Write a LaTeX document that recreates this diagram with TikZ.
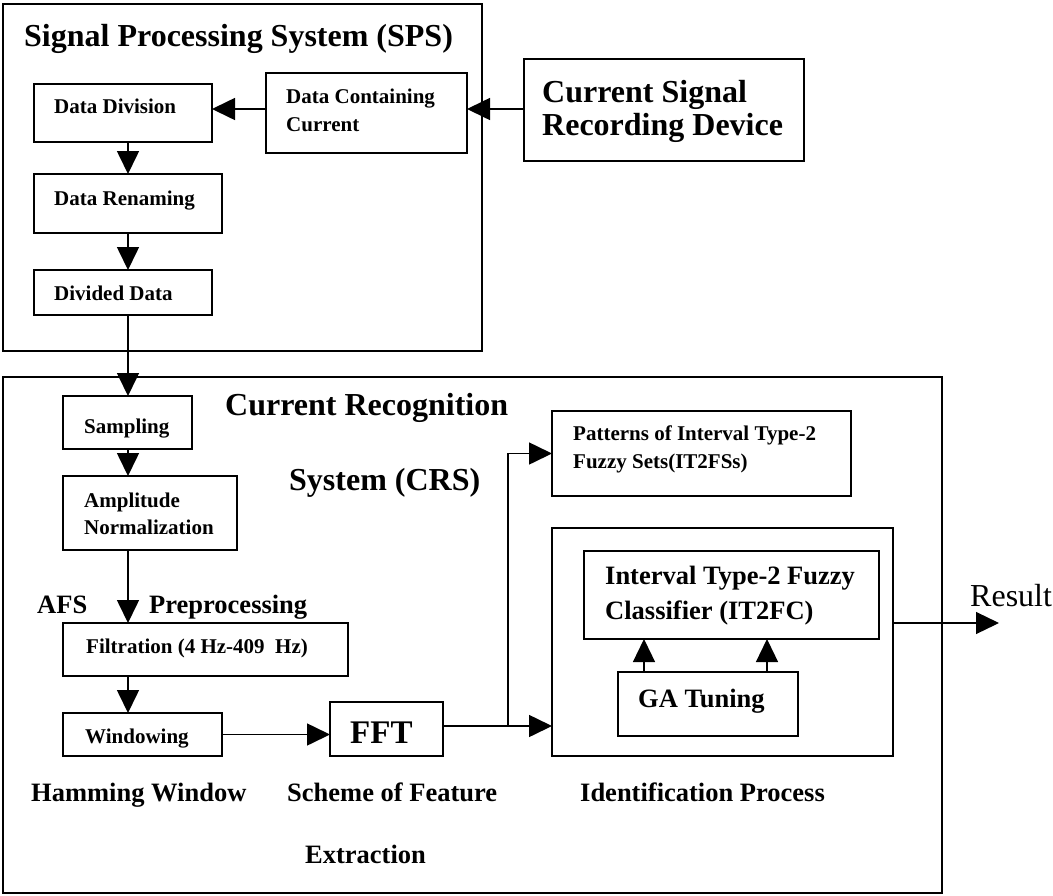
\documentclass[tikz,border=0pt]{standalone}
\usepackage{fontspec}
\setmainfont{Liberation Serif}
\usetikzlibrary{arrows.meta,fit}
\begin{document}
\begin{tikzpicture}[x=1pt,y=-1pt,
  box/.style={draw, line width=1.6pt, inner sep=0pt, outer sep=0pt, rectangle},
  thinbox/.style={draw, line width=1.3pt, inner sep=0pt, outer sep=0pt, rectangle},
  arr/.style={line width=1.6pt, -{Triangle[length=23pt,width=22pt]}},
  ln/.style={line width=1.6pt},
  txt/.style={anchor=base west, inner sep=0pt, font=\fontsize{21}{24}\selectfont\bfseries},
  mid/.style={anchor=base west, inner sep=0pt, font=\fontsize{26.5}{30}\selectfont\bfseries},
  big/.style={anchor=base west, inner sep=0pt, font=\fontsize{32}{36}\selectfont\bfseries}
]
\useasboundingbox (0,0) rectangle (1053,895);
% helper coordinates
\coordinate (xa) at (128,0);
\coordinate (ya) at (0,109);
\coordinate (j) at (508,726);
\coordinate (ga1) at (644,0);
\coordinate (ga2) at (767,0);
\coordinate (yr) at (0,623);
\coordinate (res) at (999,623);

% Signal Processing System
\node[box, fit={(3,4) (482,351)}] (sps) {};
\node[big] (spst) at (24,46) {Signal Processing System (SPS)};
\node[box, fit={(34,84) (212,142)}] (dd) {};
\node[txt] (ddt) at (54,113) {Data Division};
\node[box, fit={(266,73) (467,153)}] (dcc) {};
\node[txt] (dcct1) at (286,103) {Data Containing};
\node[txt] (dcct2) at (286,131) {Current};
\node[box, fit={(34,174) (222,233)}] (dr) {};
\node[txt] (drt) at (54,205) {Data Renaming};
\node[box, fit={(34,270) (212,315)}] (dv) {};
\node[txt] (dvt) at (54,300) {Divided Data};

% Current Signal Recording Device
\node[box, fit={(524,59) (804,161)}] (csrd) {};
\node[big] (csrdt1) at (542,102) {Current Signal};
\node[big] (csrdt2) at (542,135) {Recording Device};

% Current Recognition System
\node[box, fit={(3,377) (942,893)}] (crs) {};
\node[big] (crst1) at (225,415) {Current Recognition};
\node[big] (crst2) at (289,490) {System (CRS)};
\node[box, fit={(63,396) (192,449)}] (samp) {};
\node[txt] (sampt) at (84,433) {Sampling};
\node[box, fit={(63,476) (237,550)}] (amp) {};
\node[txt] (ampt1) at (84,507) {Amplitude};
\node[txt] (ampt2) at (84,534) {Normalization};
\node[mid] (afs) at (37,613) {AFS};
\node[mid] (prep) at (149,613) {Preprocessing};
\node[box, fit={(63,623) (348,676)}] (filt) {};
\node[txt] (filtt) at (86,653) {Filtration (4 Hz-409\ \ Hz)};
\node[box, fit={(63,713) (222,756)}] (win) {};
\node[txt] (wint) at (85,743) {Windowing};
\node[box, fit={(330,702) (443,756)}] (fft) {};
\node[big, font=\fontsize{33}{36}\selectfont\bfseries] (fftt) at (350,743) {FFT};
\node[mid] (ham) at (31,801) {Hamming Window};
\node[mid] (sch) at (287,801) {Scheme of Feature};
\node[mid] (ext) at (305,863) {Extraction};
\node[box, fit={(552,411) (851,496)}] (pat) {};
\node[txt] (patt1) at (573,440) {Patterns of Interval Type-2};
\node[txt] (patt2) at (573,468) {Fuzzy Sets(IT2FSs)};
\node[box, fit={(552,528) (893,756)}] (id) {};
\node[thinbox, fit={(584,551) (879,639)}] (it2) {};
\node[mid] (it2t1) at (605,584) {Interval Type-2 Fuzzy};
\node[mid] (it2t2) at (605,619) {Classifier (IT2FC)};
\node[thinbox, fit={(618,672) (798,736)}] (ga) {};
\node[mid] (gat) at (638,707) {GA Tuning};
\node[mid] (idt) at (580,801) {Identification Process};
\node[anchor=base west, inner sep=0pt, font=\fontsize{32}{36}\selectfont] (rest) at (970,606) {Result};

% connectors
\draw[arr] (csrd.west |- ya) -- (dcc.east |- ya);
\draw[arr] (dcc.west |- ya) -- (dd.east |- ya);
\draw[arr] (dd.south -| xa) -- (dr.north -| xa);
\draw[arr] (dr.south -| xa) -- (dv.north -| xa);
\draw[arr] (dv.south -| xa) -- (samp.north -| xa);
\draw[arr] (samp.south -| xa) -- (amp.north -| xa);
\draw[arr] (amp.south -| xa) -- (filt.north -| xa);
\draw[arr] (filt.south -| xa) -- (win.north -| xa);
\draw[arr] (win.east) -- (fft.west |- win.east);
\draw[ln] (fft.east |- j) -- (j);
\draw[arr] (j) -- (id.west |- j);
\draw[arr] (j) |- (pat.west);
\draw[arr, line width=1.3pt] (ga.north -| ga1) -- (it2.south -| ga1);
\draw[arr, line width=1.3pt] (ga.north -| ga2) -- (it2.south -| ga2);
\draw[arr, line width=1.2pt] (id.east |- yr) -- (res);
\end{tikzpicture}
\end{document}
